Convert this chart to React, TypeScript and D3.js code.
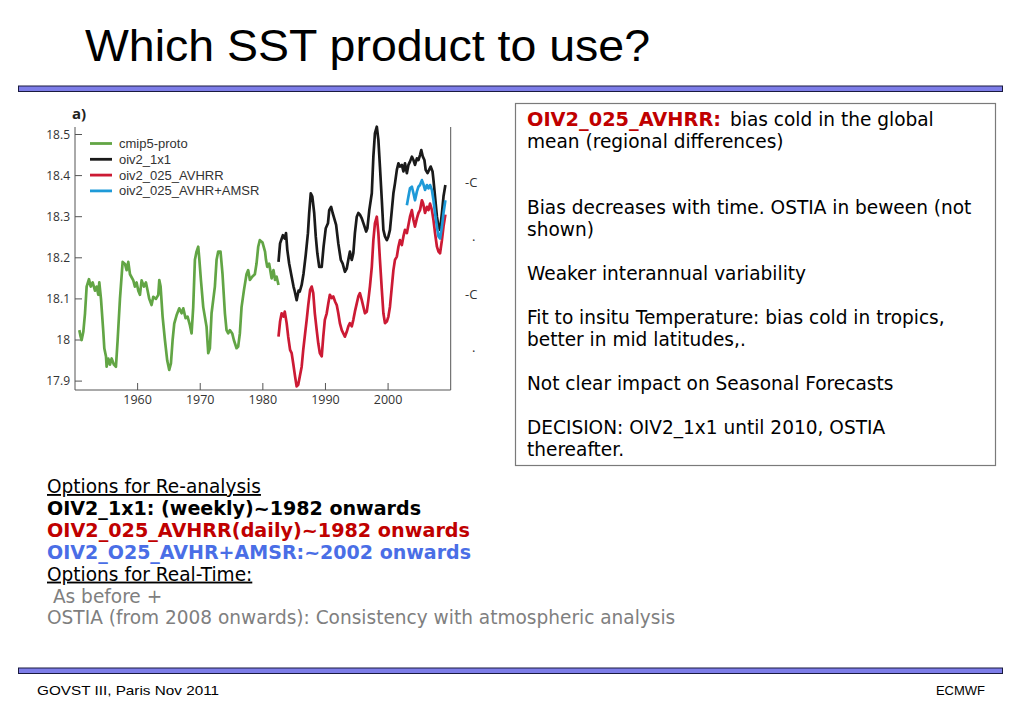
import React from 'react';
import * as d3 from 'd3';

// ---- chart data ----
const xTicks = [1960, 1970, 1980, 1990, 2000];
const yTicks = [17.9, 18, 18.1, 18.2, 18.3, 18.4, 18.5];

const seriesNames = ['cmip5-proto', 'oiv2_1x1', 'oiv2_025_AVHRR', 'oiv2_025_AVHR+AMSR'];
const seriesColors = ['#62a545', '#1a1a1a', '#cc1a34', '#1e9ad8'];

const greenYears = [1950.69, 1950.9, 1951.06, 1951.33, 1951.6, 1951.86, 1952.23, 1952.5, 1952.82, 1953.19, 1953.46, 1953.72, 1953.88, 1954.15, 1954.52, 1954.68, 1954.95, 1955.05, 1955.32, 1955.59, 1955.85, 1956.22, 1956.54, 1956.81, 1957.18, 1957.61, 1957.98, 1958.24, 1958.51, 1958.78, 1959.31, 1959.57, 1959.84, 1960.11, 1960.37, 1960.64, 1961.01, 1961.33, 1961.6, 1961.86, 1962.23, 1962.5, 1962.93, 1963.3, 1963.46, 1963.67, 1963.99, 1964.36, 1964.73, 1965.05, 1965.32, 1965.59, 1965.85, 1966.22, 1966.65, 1967.02, 1967.29, 1967.66, 1967.98, 1968.35, 1968.62, 1968.88, 1969.15, 1969.41, 1969.68, 1969.84, 1970.11, 1970.48, 1971.01, 1971.28, 1971.54, 1971.81, 1972.34, 1972.61, 1972.87, 1973.24, 1973.56, 1973.94, 1974.2, 1974.47, 1974.73, 1975.11, 1975.37, 1975.8, 1976.06, 1976.33, 1976.6, 1976.97, 1977.39, 1977.66, 1977.93, 1978.3, 1978.72, 1978.99, 1979.26, 1979.52, 1979.95, 1980.35, 1980.5, 1980.7, 1981.0, 1981.4, 1981.7, 1981.95, 1982.2, 1982.5];
const greenVals = [18.024, 18.008, 18.0, 18.02, 18.065, 18.13, 18.148, 18.13, 18.14, 18.12, 18.13, 18.11, 18.14, 18.1, 18.02, 17.98, 17.96, 17.935, 17.955, 17.94, 17.955, 17.94, 17.935, 18.0, 18.1, 18.19, 18.185, 18.17, 18.19, 18.16, 18.145, 18.13, 18.14, 18.12, 18.11, 18.145, 18.13, 18.14, 18.12, 18.1, 18.085, 18.105, 18.1, 18.11, 18.146, 18.13, 18.057, 18.0, 17.95, 17.927, 17.943, 18.0, 18.04, 18.06, 18.077, 18.065, 18.077, 18.053, 18.057, 18.036, 18.016, 18.08, 18.195, 18.215, 18.227, 18.2, 18.146, 18.08, 18.032, 17.968, 17.98, 18.065, 18.13, 18.195, 18.215, 18.215, 18.16, 18.065, 18.024, 18.016, 18.024, 18.016, 18.0, 17.98, 17.984, 18.016, 18.08, 18.12, 18.16, 18.17, 18.146, 18.154, 18.16, 18.186, 18.227, 18.243, 18.237, 18.215, 18.195, 18.178, 18.186, 18.15, 18.17, 18.146, 18.154, 18.134];

const blackYears = [1982.5, 1982.75, 1983.2, 1983.5, 1983.7, 1983.9, 1984.2, 1984.6, 1984.9, 1985.1, 1985.4, 1985.7, 1985.9, 1986.2, 1986.5, 1986.85, 1987.2, 1987.4, 1987.65, 1987.9, 1988.2, 1988.45, 1988.7, 1989.0, 1989.4, 1989.7, 1990.05, 1990.4, 1990.6, 1990.9, 1991.15, 1991.4, 1991.7, 1992.05, 1992.45, 1992.75, 1993.1, 1993.4, 1993.65, 1993.9, 1994.2, 1994.45, 1994.7, 1995.0, 1995.25, 1995.5, 1995.8, 1996.15, 1996.5, 1996.7, 1997.0, 1997.4, 1997.65, 1997.9, 1998.2, 1998.45, 1998.7, 1999.0, 1999.25, 1999.5, 1999.8, 2000.05, 2000.3, 2000.6, 2000.85, 2001.1, 2001.4, 2001.65, 2001.9, 2002.2, 2002.45, 2002.7, 2003.0, 2003.25, 2003.5, 2003.8, 2004.05, 2004.3, 2004.6, 2004.85, 2005.1, 2005.3, 2005.55, 2005.8, 2006.0, 2006.3, 2006.55, 2006.8, 2007.1, 2007.25, 2007.5, 2007.8, 2008.05, 2008.3, 2008.6, 2008.85, 2009.15];
const blackVals = [18.19, 18.235, 18.255, 18.247, 18.26, 18.22, 18.186, 18.154, 18.13, 18.118, 18.097, 18.12, 18.118, 18.134, 18.162, 18.207, 18.26, 18.309, 18.357, 18.349, 18.309, 18.252, 18.211, 18.178, 18.178, 18.227, 18.272, 18.284, 18.316, 18.324, 18.309, 18.296, 18.28, 18.235, 18.195, 18.186, 18.166, 18.174, 18.195, 18.215, 18.195, 18.211, 18.26, 18.3, 18.309, 18.305, 18.296, 18.28, 18.264, 18.272, 18.316, 18.357, 18.446, 18.503, 18.519, 18.487, 18.422, 18.34, 18.268, 18.252, 18.243, 18.252, 18.268, 18.316, 18.357, 18.381, 18.414, 18.43, 18.422, 18.426, 18.41, 18.43, 18.406, 18.426, 18.434, 18.446, 18.438, 18.426, 18.442, 18.438, 18.45, 18.462, 18.446, 18.438, 18.414, 18.406, 18.414, 18.422, 18.41, 18.389, 18.349, 18.3, 18.276, 18.268, 18.309, 18.349, 18.377];

const redYears = [1982.5, 1982.75, 1983.0, 1983.3, 1983.5, 1983.8, 1984.05, 1984.35, 1984.6, 1984.85, 1985.15, 1985.4, 1985.65, 1985.9, 1986.2, 1986.45, 1986.75, 1987.0, 1987.25, 1987.55, 1987.8, 1988.05, 1988.3, 1988.6, 1988.85, 1989.1, 1989.4, 1989.65, 1989.9, 1990.2, 1990.45, 1990.7, 1991.0, 1991.25, 1991.55, 1991.8, 1992.05, 1992.3, 1992.6, 1992.85, 1993.1, 1993.4, 1993.65, 1993.9, 1994.2, 1994.45, 1994.7, 1995.0, 1995.25, 1995.5, 1995.8, 1996.05, 1996.3, 1996.6, 1996.85, 1997.1, 1997.4, 1997.65, 1997.9, 1998.2, 1998.45, 1998.7, 1999.0, 1999.25, 1999.5, 1999.8, 2000.05, 2000.3, 2000.6, 2000.85, 2001.1, 2001.4, 2001.65, 2001.9, 2002.2, 2002.45, 2002.7, 2003.0, 2003.25, 2003.5, 2003.8, 2004.05, 2004.3, 2004.6, 2004.85, 2005.1, 2005.4, 2005.6, 2005.9, 2006.2, 2006.45, 2006.7, 2007.0, 2007.25, 2007.5, 2007.8, 2008.05, 2008.3, 2008.6, 2008.85, 2009.15];
const redVals = [18.008, 18.045, 18.065, 18.057, 18.069, 18.041, 18.008, 17.976, 17.968, 17.943, 17.911, 17.887, 17.891, 17.911, 17.935, 17.976, 18.016, 18.049, 18.085, 18.122, 18.13, 18.114, 18.065, 18.024, 17.992, 17.968, 17.96, 18.008, 18.049, 18.065, 18.089, 18.11, 18.102, 18.106, 18.093, 18.085, 18.065, 18.041, 18.024, 18.016, 18.008, 18.02, 18.033, 18.041, 18.033, 18.049, 18.069, 18.089, 18.106, 18.114, 18.097, 18.081, 18.065, 18.069, 18.097, 18.13, 18.178, 18.243, 18.284, 18.3, 18.26, 18.195, 18.122, 18.065, 18.041, 18.045, 18.057, 18.081, 18.13, 18.17, 18.195, 18.203, 18.227, 18.243, 18.231, 18.252, 18.268, 18.26, 18.28, 18.3, 18.316, 18.292, 18.276, 18.296, 18.309, 18.316, 18.34, 18.332, 18.309, 18.324, 18.316, 18.332, 18.316, 18.292, 18.26, 18.227, 18.215, 18.211, 18.243, 18.276, 18.305];

const blueYears = [2003.0, 2003.25, 2003.5, 2003.8, 2004.05, 2004.3, 2004.6, 2004.85, 2005.1, 2005.4, 2005.6, 2005.9, 2006.2, 2006.45, 2006.7, 2007.0, 2007.25, 2007.5, 2007.8, 2008.05, 2008.3, 2008.6, 2008.85, 2009.15];
const blueVals = [18.328, 18.349, 18.369, 18.373, 18.357, 18.34, 18.361, 18.373, 18.377, 18.389, 18.381, 18.365, 18.377, 18.369, 18.377, 18.365, 18.34, 18.309, 18.276, 18.252, 18.247, 18.276, 18.309, 18.34];

// ---- slide text ----
const boxLines = [
  'mean (regional differences)',
  '',
  '',
  'Bias decreases with time. OSTIA in beween (not',
  'shown)',
  '',
  'Weaker interannual variability',
  '',
  'Fit to insitu Temperature: bias cold in tropics,',
  'better in mid latitudes,.',
  '',
  'Not clear impact on Seasonal Forecasts',
  '',
  'DECISION: OIV2_1x1 until 2010, OSTIA',
  'thereafter.',
];

// width: measured width of the bold lines in the slide
const optionLines = [
  { text: 'Options for Re-analysis', color: '#000', bold: false, underline: true, width: 0 },
  { text: 'OIV2_1x1: (weekly)~1982 onwards', color: '#000', bold: true, underline: false, width: 374 },
  { text: 'OIV2_025_AVHRR(daily)~1982 onwards', color: '#c00000', bold: true, underline: false, width: 423 },
  { text: 'OIV2_O25_AVHR+AMSR:~2002 onwards', color: '#4a6ee6', bold: true, underline: false, width: 424 },
  { text: 'Options for Real-Time:', color: '#000', bold: false, underline: true, width: 0 },
  { text: '\u00a0As before +', color: '#7f7f7f', bold: false, underline: false, width: 0 },
  { text: 'OSTIA (from 2008 onwards): Consistency with atmospheric analysis', color: '#7f7f7f', bold: false, underline: false, width: 0 },
];

const bodyFont = '"DejaVu Sans", Verdana, sans-serif';
const chartFont = '"Open Sans", "Liberation Sans", sans-serif';
const footFont = '"Liberation Sans", Arial, sans-serif';
const bodySize = 18.55;

const App: React.FC = () => {
  const x = d3.scaleLinear().domain([1950, 2010]).range([75, 450.7]);
  const y = d3.scaleLinear().domain([17.9, 18.5]).range([381.1, 134.5]);
  const plotTop = 127;
  const plotBottom = 390;

  const line = d3.line<[number, number]>().x(d => x(d[0])).y(d => y(d[1]));
  const zipper = (xs: number[], vs: number[]) => xs.map((v, i) => [v, vs[i]] as [number, number]);
  const series = [
    zipper(greenYears, greenVals),
    zipper(blackYears, blackVals),
    zipper(redYears, redVals),
    zipper(blueYears, blueVals),
  ];

  return (
    <div style={{ position: 'absolute', left: 0, top: 0 }}>
      <svg width={1023} height={708} style={{ display: 'block', background: '#fff' }}>
        {/* Title */}
        <text x={85} y={61} fontFamily={footFont} fontSize={44}
          textLength={565} lengthAdjust="spacingAndGlyphs" fill="#000">
          Which SST product to use?
        </text>

        {/* top and bottom rules */}
        <rect x={18.5} y={86} width={984} height={5.5} fill="#7d7de8" stroke="#1a1a40" strokeWidth={1} />
        <rect x={18.5} y={668} width={984} height={5.5} fill="#7d7de8" stroke="#1a1a40" strokeWidth={1} />

        {/* Chart */}
        <g>
          <text x={72} y={119} fontFamily={chartFont} fontWeight={700} fontSize={15} fill="#222">a)</text>
          <path d={`M${x(1950)},${plotTop}V${plotBottom}H${x(2010)}V${plotTop}`} fill="none" stroke="#555" strokeWidth={1} />
          {yTicks.map(t => (
            <g key={t}>
              <line x1={x(1950)} x2={x(1950) + 7} y1={y(t)} y2={y(t)} stroke="#555" strokeWidth={1} />
              <text x={70} y={y(t) + 4} textAnchor="end" fontFamily={chartFont} fontSize={12} fill="#333">
                {String(+t.toFixed(1))}
              </text>
            </g>
          ))}
          {xTicks.map(t => (
            <g key={t}>
              <line x1={x(t)} x2={x(t)} y1={plotBottom} y2={plotBottom - 7} stroke="#555" strokeWidth={1} />
              <text x={x(t)} y={404} textAnchor="middle" fontFamily={chartFont} fontSize={12.5} fill="#333">{t}</text>
            </g>
          ))}
          {series.map((s, i) => (
            <path key={i} d={line(s) || ''} fill="none" stroke={seriesColors[i]} strokeWidth={2.7} strokeLinejoin="round" />
          ))}
          {seriesNames.map((n, i) => (
            <g key={n}>
              <line x1={90} x2={112} y1={143.5 + i * 15.8} y2={143.5 + i * 15.8} stroke={seriesColors[i]} strokeWidth={2.8} />
              <text x={119} y={148 + i * 15.8} fontFamily={footFont} fontSize={13} fill="#333">{n}</text>
            </g>
          ))}
          {/* clipped labels of the neighbouring panel */}
          {['-C', '.', '-C', '.'].map((s, i) => (
            <text key={i} x={s === '.' ? 472 : 465} y={[187, 241, 299, 352][i]} fontFamily={chartFont} fontSize={13} fill="#333">{s}</text>
          ))}
        </g>

        {/* Text box */}
        <rect x={515.5} y={103.5} width={480} height={362} fill="none" stroke="#7a7a7a" strokeWidth={1.2} />
        <text x={527} y={126} fontFamily={bodyFont} fontSize={bodySize} fill="#c00000" fontWeight={700}
          textLength={194} lengthAdjust="spacingAndGlyphs">OIV2_025_AVHRR:</text>
        <text x={730} y={126} fontFamily={bodyFont} fontSize={bodySize} fill="#000">bias cold in the global</text>
        {boxLines.map((l, i) => (
          <text key={i} x={527} y={147.5 + i * 22.05} fontFamily={bodyFont} fontSize={bodySize} fill="#000">{l}</text>
        ))}

        {/* Options list */}
        {optionLines.map((l, i) => (
          <text key={i} x={47} y={493 + i * 21.9} fontFamily={bodyFont} fontSize={bodySize}
            fontWeight={l.bold ? 700 : 400} fill={l.color}
            textLength={l.width || undefined} lengthAdjust={l.width ? 'spacingAndGlyphs' : undefined}
            style={{ textDecoration: l.underline ? 'underline' : 'none' }}>
            {l.text}
          </text>
        ))}

        {/* Footer */}
        <text x={37} y={695} fontFamily={footFont} fontSize={13} fill="#000"
          textLength={182} lengthAdjust="spacingAndGlyphs">GOVST III,  Paris Nov 2011</text>
        <text x={985} y={695} textAnchor="end" fontFamily={footFont} fontSize={13} fill="#000">ECMWF</text>
      </svg>
    </div>
  );
};

export default App;
